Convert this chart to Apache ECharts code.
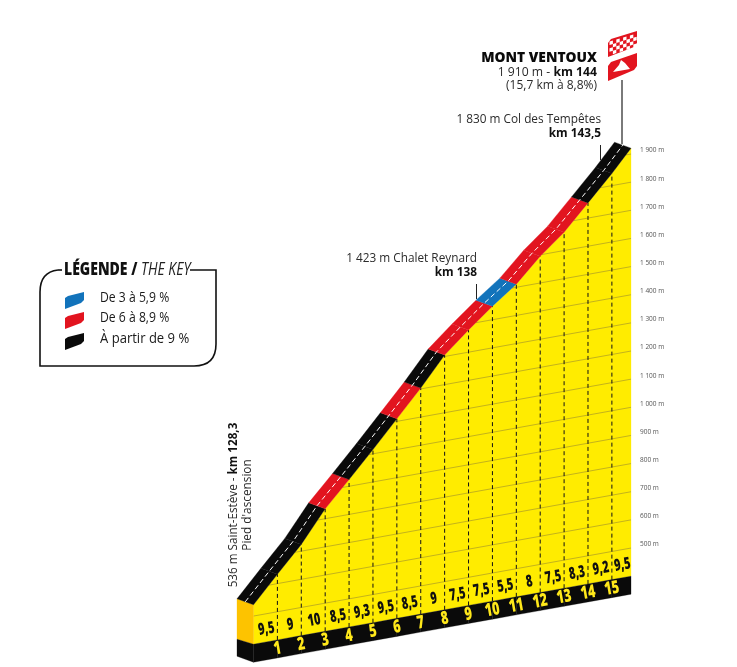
<!DOCTYPE html>
<html><head><meta charset="utf-8">
<style>html,body{margin:0;padding:0;background:#fff}#c{width:737px;height:667px}</style>
<script src="https://cdn.jsdelivr.net/npm/echarts@6/dist/echarts.min.js"></script>
</head><body><div id="c"></div>
<script>
// ---- data ----
const kmMarks   = [0, 1, 2, 3, 4, 5, 6, 7, 8, 9, 10, 11, 12, 13, 14, 15, 15.8];
const altitudes = [540, 633, 724, 835, 924, 1015, 1109, 1203, 1305, 1379, 1448, 1511, 1595, 1665, 1754, 1843, 1921];
const gradients = [9.5, 9, 10, 8.5, 9.3, 9.5, 8.5, 9, 7.5, 7.5, 5.5, 8, 7.5, 8.3, 9.2, 9.5];
const gradientLabels = ['9,5','9','10','8,5','9,3','9,5','8,5','9','7,5','7,5','5,5','8','7,5','8,3','9,2','9,5'];
const kmLabels = ['1','2','3','4','5','6','7','8','9','10','11','12','13','14','15'];
const gridAltitudes = [500,600,700,800,900,1000,1100,1200,1300,1400,1500,1600,1700,1800,1900];
const legendItems = ['De 3 à 5,9 %', 'De 6 à 8,9 %', 'À partir de 9 %'];

// ---- style constants ----
const BASE_ALT = 400, BAND_ALT = 336, SHEAR = 15.3, KM_END = 15.8;
const ROAD_DX = -16.5, ROAD_DY = -6;
const YELLOW='#ffec00', ORANGE='#fdc300', GRIDC='#c4b31c', BLACK='#0a0a0a', RED='#e2141f', BLUE='#1273bb';
const FONT='"Open Sans", sans-serif';
const colorFor = p => p >= 9 ? BLACK : p >= 6 ? RED : BLUE;

const rows = gradients.map((g,i)=>[kmMarks[i],kmMarks[i+1],altitudes[i],altitudes[i+1],g,gradientLabels[i],i]);
const proj = (api,km,alt)=>api.coord([km, alt-(KM_END-km)*SHEAR]);
const ROT = Math.atan(0.18);

function layer(name,renderItem){
  return {type:'custom',name,coordinateSystem:'cartesian2d',silent:true,clip:false,
    encode:{x:[0,1],y:[2,3]},data:rows,renderItem};
}
const poly=(points,fill)=>({type:'polygon',shape:{points},style:{fill,stroke:fill,lineWidth:0.3}});
const txt=(x,y,text,o={})=>({type:'text',x,y,rotation:o.rot||0,scaleX:o.sx||1,scaleY:1,
  style:{text,fill:o.fill||'#000',font:o.font,align:'center',verticalAlign:'middle',textAlign:'center',textVerticalAlign:'middle',
    stroke:o.stroke,lineWidth:o.lw||0}});

const series=[
 layer('hill',(p,api)=>{
   const a=api.value(0),b=api.value(1),h0=api.value(2),h1=api.value(3);
   const kids=[poly([proj(api,a,BASE_ALT),proj(api,a,h0),proj(api,b,h1),proj(api,b,BASE_ALT)],YELLOW)];
   return {type:'group',children:kids};
 }),
 layer('grid',(p,api)=>{
   const a=api.value(0),b=api.value(1),h0=api.value(2),h1=api.value(3);
   const kids=[];
   gridAltitudes.forEach(G=>{
     if(Math.max(h0,h1)<G) return;
     const s=h0>=G?a:a+(b-a)*(G-h0)/(h1-h0);
     const A=proj(api,s,G),B=proj(api,b,G);
     kids.push({type:'line',shape:{x1:A[0],y1:A[1],x2:B[0],y2:B[1]},style:{stroke:GRIDC,fill:null,lineWidth:1}});
   });
   return {type:'group',children:kids};
 }),
 layer('kmDash',(p,api)=>{
   if(api.value(6)===0) return {type:'group',children:[]};
   const a=api.value(0),h0=api.value(2);
   const A=proj(api,a,BASE_ALT),B=proj(api,a,h0);
   return {type:'line',shape:{x1:A[0],y1:A[1],x2:B[0],y2:B[1]},style:{stroke:'#111',lineWidth:1,lineDash:[4,3]}};
 }),
 layer('band',(p,api)=>{
   const a=api.value(0),b=api.value(1);
   const kids=[poly([proj(api,a,BASE_ALT),proj(api,b,BASE_ALT),proj(api,b,BAND_ALT),proj(api,a,BAND_ALT)],BLACK)];
   if(api.value(6)===0){
     const f0=proj(api,0,altitudes[0]),f1=proj(api,0,BASE_ALT),f2=proj(api,0,BAND_ALT);
     const off=(q,dy)=>[q[0]+ROAD_DX,q[1]+dy];
     kids.push(poly([f0,off(f0,ROAD_DY),off(f1,-5),f1],ORANGE));
     kids.push(poly([f1,off(f1,-5),off(f2,-6),f2],BLACK));
   }
   return {type:'group',children:kids};
 }),
 layer('road',(p,api)=>{
   const a=api.value(0),b=api.value(1),h0=api.value(2),h1=api.value(3);
   const A=proj(api,a,h0),B=proj(api,b,h1);
   return poly([A,B,[B[0]+ROAD_DX,B[1]+ROAD_DY],[A[0]+ROAD_DX,A[1]+ROAD_DY]],colorFor(api.value(4)));
 }),
 layer('roadCentre',(p,api)=>{
   if(api.value(6)!==0) return {type:'group',children:[]};
   const pts=kmMarks.map((k,i)=>{const q=proj(api,k,altitudes[i]);return [q[0]+ROAD_DX/2,q[1]+ROAD_DY/2];});
   return {type:'polyline',shape:{points:pts},style:{stroke:'#fff',fill:'none',lineWidth:1,lineDash:[5,3]}};
 }),
 layer('labels',(p,api)=>{
   const a=api.value(0),b=api.value(1),i=api.value(6);
   const kids=[];
   const m=proj(api,(a+b)/2,BASE_ALT);
   kids.push(txt(m[0]+1,m[1]-13,gradientLabels[i],{rot:ROT,sx:0.66,font:'800 16.5px '+FONT,fill:'#111'}));
   if(i>0){
     const q=proj(api,a,BASE_ALT);
     kids.push(txt(q[0],q[1]+9,kmLabels[i-1],{rot:ROT,sx:0.7,font:'800 18px '+FONT,fill:'#ffe81a'}));
   }
   return {type:'group',children:kids};
 })
];

// ---- annotations ----
const T=(x,y,text,o={})=>({type:'text',x,y,rotation:o.rot||0,scaleX:o.sx||1,silent:true,
  style:{text,font:o.font||'400 12px '+FONT,fill:o.fill||'#2b2b2b',align:o.align||'right',verticalAlign:'middle',
         stroke:o.stroke,lineWidth:o.lw||0,rich:o.rich}});
const boldRich=s=>({b:{font:'700 '+s+'px '+FONT,fill:'#111'},n:{font:'400 '+s+'px '+FONT,fill:'#2b2b2b'}});
const L=(x1,y1,x2,y2,c,w)=>({type:'line',silent:true,shape:{x1,y1,x2,y2},style:{stroke:c,lineWidth:w}});
const P=(points,fill)=>({type:'polygon',silent:true,shape:{points},style:{fill}});
const Q=(x1,y1,cx,cy,x2,y2)=>({type:'bezierCurve',silent:true,shape:{x1,y1,cpx1:cx,cpy1:cy,x2,y2},style:{fill:'none',stroke:'#111',lineWidth:1.6}});

const swatch=(y,c)=>P([[65,y+6],[68,y+4],[82,y+0.5],[84,y],[84,y+8],[81,y+11],[65,y+17]],c);

const checks=[];
for(let r=0;r<4;r++){for(let c=0;c<8;c++){ if((r+c)%2) continue;
  const x=609.5+c*3.4, y=42-(x-608)*0.3+r*3.4, d=3.4;
  checks.push(P([[x,y],[x+d,y-d*0.3],[x+d,y+d-d*0.3],[x,y+d]],'#fff'));
}}

const graphic=[
  L(622,80,622,144,'#7a7a7a',2),
  L(600.5,145,600.5,160,'#222',1),
  L(476.5,284,476.5,299,'#222',1),
  P([[608,43],[611,39],[637,31],[637,43],[634,47],[608,57]],'#e2141f'),
  ...checks,
  P([[608,66],[611,62],[637,53],[637,66],[634,70],[608,81]],'#e2141f'),
  P([[613,72],[619,65],[621,60],[625,63],[630,69]],'#fff'),
  T(597,58,'MONT VENTOUX',{font:'800 13.8px '+FONT,fill:'#0a0a0a'}),
  T(597,73,'{n|1 910 m - }{b|km 144}',{rich:boldRich(12.2)}),
  T(597,86,'(15,7 km à 8,8%)',{font:'400 12px '+FONT}),
  T(601,120,'1 830 m Col des Tempêtes',{font:'400 11.8px '+FONT}),
  T(601,134,'km 143,5',{font:'700 11.8px '+FONT,fill:'#111'}),
  T(477,259,'1 423 m Chalet Reynard',{font:'400 11.8px '+FONT}),
  T(477,273,'km 138',{font:'700 11.8px '+FONT,fill:'#111'}),
  T(234,505,'{n|536 m Saint-Estève - }{b|km 128,3}',{rot:Math.PI/2,align:'center',rich:boldRich(11.7)}),
  T(248,505,"Pied d'ascension",{rot:Math.PI/2,align:'center',font:'400 11.8px '+FONT}),
  T(561,547,'Pourcentage moyen par kilomètre',{rot:ROT,align:'center',sx:0.57,font:'800 11.3px '+FONT,fill:'#111',stroke:'#fff',lw:2}),
  {type:'polyline',silent:true,shape:{points:[[62,270],[58,270]]},style:{fill:'none',stroke:'#111',lineWidth:1.6}},
  Q(58,270,40,272,40,292),
  {type:'polyline',silent:true,shape:{points:[[40,292],[40,366],[194,366]]},style:{fill:'none',stroke:'#111',lineWidth:1.6}},
  Q(194,366,216,366,216,344),
  {type:'polyline',silent:true,shape:{points:[[216,344],[216,270],[190,270]]},style:{fill:'none',stroke:'#111',lineWidth:1.6}},
  T(64,270,'{a|LÉGENDE / }{c|THE KEY}',{align:'left',sx:0.8,rich:{a:{font:'800 17.5px '+FONT,fill:'#111'},c:{font:'italic 400 17.5px '+FONT,fill:'#222'}}}),
  swatch(292,BLUE),swatch(312,RED),swatch(333,BLACK),
  T(100,298,legendItems[0],{align:'left',sx:0.84,font:'400 14.5px '+FONT,fill:'#1a1a1a'}),
  T(100,318,legendItems[1],{align:'left',sx:0.84,font:'400 14.5px '+FONT,fill:'#1a1a1a'}),
  T(100,339,legendItems[2],{align:'left',sx:0.9,font:'400 14.5px '+FONT,fill:'#1a1a1a'})
];

const chart=echarts.init(document.getElementById('c'),null,{renderer:'canvas'});
chart.setOption({
  animation:false,backgroundColor:'#fff',
  grid:{left:253.5,width:377.5,top:125.9,height:534.7},
  xAxis:{type:'value',min:0,max:KM_END,show:false,splitLine:{show:false}},
  yAxis:{type:'value',position:'right',min:100,max:2000,interval:100,
    axisLine:{show:false},axisTick:{show:false},splitLine:{show:false},
    axisLabel:{margin:9,fontSize:6.5,color:'#555',fontFamily:'"Open Sans"',verticalAlign:'bottom',
      formatter:v=>gridAltitudes.includes(v)?(v>=1000?Math.floor(v/1000)+' '+String(v%1000).padStart(3,'0'):v)+' m':''}},
  graphic,series
});
</script></body></html>
